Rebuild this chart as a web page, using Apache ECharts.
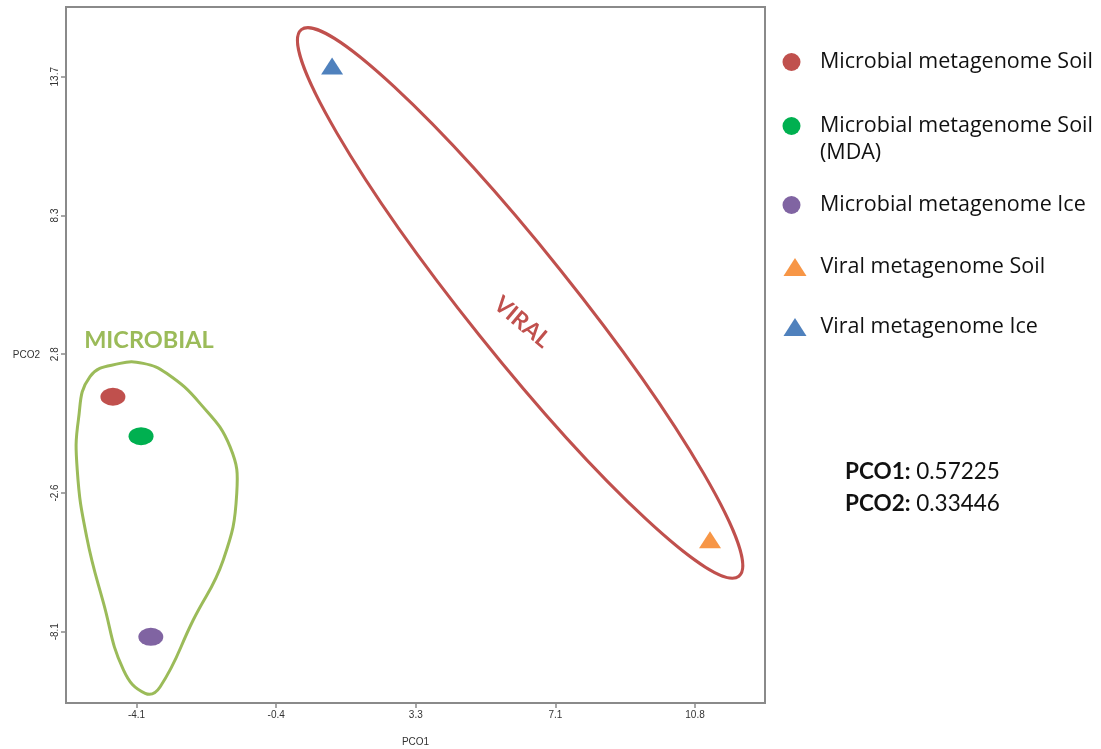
<!DOCTYPE html>
<html><head><meta charset="utf-8">
<script src="https://cdn.jsdelivr.net/npm/echarts@6/dist/echarts.min.js"></script>
<style>html,body{margin:0;padding:0;background:#fff}#c{width:1101px;height:749px}</style>
</head><body><div id="c"></div>
<script>
// ---- data ----
const seriesNames = ['Microbial metagenome Soil','Microbial metagenome Soil (MDA)','Microbial metagenome Ice','Viral metagenome Soil','Viral metagenome Ice'];
const seriesShapes = ['circle','circle','circle','triangle','triangle'];
const seriesColors = ['#C0504D','#00B050','#8064A2','#F79646','#4F81BD'];
const microbialSoil = [[-4.73, 1.15]];
const microbialSoilMDA = [[-3.98, -0.40]];
const microbialIce = [[-3.72, -8.28]];
const viralSoil = [[11.18, -4.47]];
const viralIce = [[1.11, 14.14]];
const seriesData = [microbialSoil, microbialSoilMDA, microbialIce, viralSoil, viralIce];
const xTicks = [-4.10, -0.38, 3.34, 7.06, 10.78];
const yTicks = [-8.08, -2.63, 2.82, 8.27, 13.72];
const xRange = [-5.98, 12.645];
const yRange = [-10.88, 16.46];
const xName = 'PCO1';
const yName = 'PCO2';
// group outlines (annotation, data coordinates)
const microbialHull = [[-4.54,2.46],[-5.34,1.94],[-5.65,0.24],[-5.68,-1.73],[-5.43,-4.35],[-4.98,-6.96],[-4.45,-9.58],[-3.87,-10.50],[-3.47,-10.24],[-2.59,-7.62],[-1.79,-5.26],[-1.43,-2.64],[-1.61,-0.81],[-2.41,0.89],[-3.30,2.07],[-3.92,2.46]];
const microbialLabel = {text:'MICROBIAL', at:[-3.77, 3.38]};
const viralHullAxis = [[0.29, 15.57],[11.95, -5.90]];
const viralLabel = {text:'VIRAL', at:[6.17, 4.08]};
const varianceLabels = ['PCO1:', 'PCO2:'];
const varianceValues = ['0.57225', '0.33446'];

// ---- chart ----
const chart = echarts.init(document.getElementById('c'), null, {renderer:'canvas'});
const GRAY = '#8a8a8a';
const symbolSizes = {circle:[25,18], triangle:[22,17]};

const scatterSeries = seriesNames.map((n,i)=>({
  name:n, type:'scatter', data:seriesData[i], symbol:seriesShapes[i],
  symbolSize:symbolSizes[seriesShapes[i]], itemStyle:{color:seriesColors[i], opacity:1},
  z:5, silent:true
}));

const microbialSeries = {
  type:'custom', coordinateSystem:'cartesian2d', data:microbialHull, encode:{x:0,y:1}, silent:true, z:3,
  renderItem:(params, api)=>{
    if (params.dataIndex!==0) return;
    const pts = microbialHull.map(p=>api.coord(p));
    const lp = api.coord(microbialLabel.at);
    return {type:'group', children:[
      {type:'polygon', shape:{points:pts, smooth:0.45}, style:{fill:'none', stroke:'#9BBB59', lineWidth:3}},
      {type:'text', x:lp[0], y:lp[1], style:{text:microbialLabel.text, fill:'#9BBB59', fontFamily:'Lato', fontWeight:'bold', fontSize:23.5, align:'center', verticalAlign:'middle'}}
    ]};
  }
};

const viralSeries = {
  type:'custom', coordinateSystem:'cartesian2d', data:viralHullAxis, encode:{x:0,y:1}, silent:true, z:3,
  renderItem:(params, api)=>{
    if (params.dataIndex!==0) return;
    const p1 = api.coord(viralHullAxis[0]), p2 = api.coord(viralHullAxis[1]);
    const cx=(p1[0]+p2[0])/2, cy=(p1[1]+p2[1])/2;
    const dx=p2[0]-p1[0], dy=p2[1]-p1[1];
    const a=Math.sqrt(dx*dx+dy*dy)/2, ang=Math.atan2(dy,dx);
    const lp = api.coord(viralLabel.at);
    return {type:'group', children:[
      {type:'ellipse', x:cx, y:cy, rotation:-ang, shape:{cx:0, cy:0, rx:a, ry:52}, style:{fill:'none', stroke:'#C0504D', lineWidth:3}},
      {type:'text', x:lp[0], y:lp[1], rotation:-40*Math.PI/180, style:{text:viralLabel.text, fill:'#C0504D', fontFamily:'Lato', fontWeight:'bold', fontSize:23, align:'center', verticalAlign:'middle'}}
    ]};
  }
};

const legendCenters = [62, 126, 205, 267, 327];
const legends = seriesNames.map((n,i)=>{
  const tri = seriesShapes[i]==='triangle';
  const iw = tri?23:25, ih = 18;
  const mda = i===1;
  const itemH = mda ? 81 : 27;
  return {
    data:[{name:n, icon:seriesShapes[i]}], orient:'vertical', left: 795 - iw/2, top: legendCenters[i] - itemH/2,
    padding:0, itemWidth:iw, itemHeight:ih, itemGap:0, symbolKeepAspect:false, selectedMode:false,
    formatter: mda ? (()=> ' \nMicrobial metagenome Soil\n(MDA)') : undefined,
    textStyle:{fontFamily:'Open Sans', fontSize:21.5, color:'#111', lineHeight:27, padding:[0,0,0, tri?9:11]}
  };
});

const axisCommon = {
  type:'value', nameLocation:'middle',
  nameTextStyle:{fontFamily:'Liberation Sans', fontSize:10, color:'#333'},
  axisLine:{show:true, onZero:false, lineStyle:{color:GRAY, width:2}}, splitLine:{show:false}
};

const option = {
  animation:false,
  backgroundColor:'#fff',
  grid:{left:66, right:336, top:7, bottom:46, show:true, borderColor:GRAY, borderWidth:2, backgroundColor:'transparent', containLabel:false, outerBoundsMode:'none'},
  legend: legends,
  xAxis:Object.assign({}, axisCommon, {
    min:xRange[0], max:xRange[1], name:xName, nameGap:34,
    axisTick:{show:true, length:5, customValues:xTicks, lineStyle:{color:GRAY, width:1.5}},
    axisLabel:{customValues:xTicks, formatter:v=>Number(v).toFixed(1), fontFamily:'Liberation Sans', fontSize:10, color:'#333', margin:7}
  }),
  yAxis:Object.assign({}, axisCommon, {
    min:yRange[0], max:yRange[1], name:yName, nameGap:26, nameRotate:0,
    axisTick:{show:true, length:5, customValues:yTicks, lineStyle:{color:GRAY, width:1.5}},
    axisLabel:{customValues:yTicks, formatter:v=>Number(v).toFixed(1), rotate:90, fontFamily:'Liberation Sans', fontSize:10, color:'#333', margin:6}
  }),
  graphic: varianceLabels.map((l,i)=>({
    type:'text', left:845, top: 460 + i*32,
    style:{text:'{b|'+l+'} '+varianceValues[i], rich:{b:{fontWeight:'bold', fontFamily:'Lato', fontSize:22.5, fill:'#111'}}, fontFamily:'Lato', fontSize:22.5, fill:'#111'}
  })),
  series:[microbialSeries, viralSeries, ...scatterSeries]
};
chart.setOption(option);
</script></body></html>
